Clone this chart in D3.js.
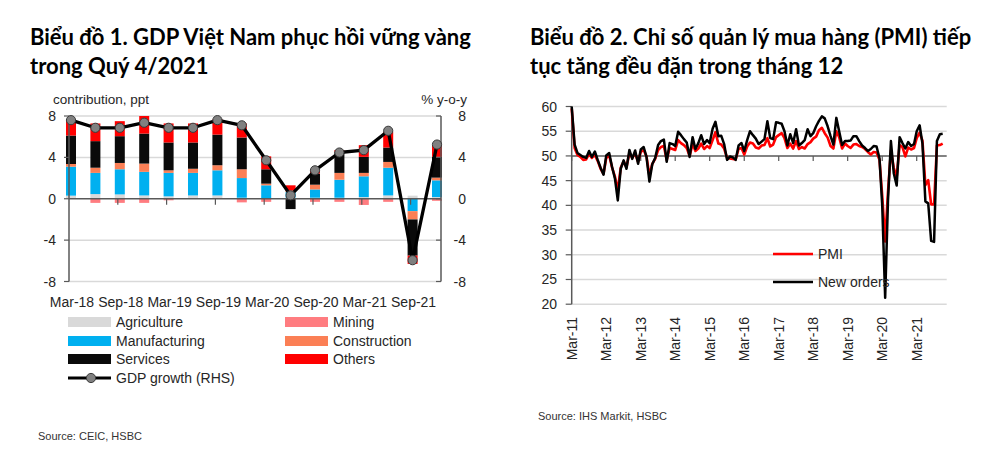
<!DOCTYPE html>
<html><head><meta charset="utf-8">
<script src="https://cdn.jsdelivr.net/npm/d3@7"></script>
<style>body{margin:0;background:#fff}svg{display:block}</style>
</head><body><svg id="c" width="991" height="476"></svg>
<script>
// ---------- Chart 1 data ----------
const quarters = ["Mar-18","Jun-18","Sep-18","Dec-18","Mar-19","Jun-19","Sep-19","Dec-19","Mar-20","Jun-20","Sep-20","Dec-20","Mar-21","Jun-21","Sep-21","Dec-21"];
const quarterTickLabels = ["Mar-18","Sep-18","Mar-19","Sep-19","Mar-20","Sep-20","Mar-21","Sep-21"];
const agriculture   = [0.3,0.45,0.42,0.32,0.23,0.32,0.32,0.1,0.05,0.1,0.1,0.1,0.16,0.32,0.3,0.16];
const mining        = [0,-0.4,-0.4,-0.4,-0.15,0,0,-0.35,-0.3,0,-0.3,-0.3,-0.6,-0.3,0,-0.2];
const manufacturing = [2.8,2.05,2.43,2.28,2.27,2.18,2.43,1.9,1.25,0.55,0.8,1.74,2.01,2.68,-1.2,1.62];
const construction  = [0.26,0.5,0.61,0.8,0.25,0.4,0.49,0.85,0.16,0.15,0.46,0.66,0.33,0.56,-0.8,0.26];
const services      = [2.75,2.57,2.59,2.9,2.69,2.54,2.96,3.07,1.39,-1.0,1.07,2.03,1.55,1.39,-3.5,2.01];
const others        = [1.5,1.71,1.45,1.7,1.84,1.84,1.47,1.36,1.25,0.5,0.32,0.17,1.13,1.52,-0.8,1.13];
const gdpGrowth     = [7.6,6.86,6.86,7.35,6.86,6.86,7.6,7.1,3.72,0.33,2.75,4.47,4.7,6.57,-5.94,5.24];
const leftTicks = [-8,-4,0,4,8];

// ---------- Chart 2 data ----------
const pmiStart = "2011-03";
const pmi = [
59.6,51.6,50.2,49.8,49.2,49.3,50.4,49.6,50.2,49.0,
47.4,46.4,49.6,50.1,47.7,45.8,43.0,47.6,48.9,47.7,
50.6,49.6,50.5,48.8,50.8,51.2,49.9,46.0,48.4,49.4,
51.2,51.8,52.0,49.2,51.6,51.4,51.2,53.2,52.6,52.2,
51.6,50.0,52.4,51.0,51.5,52.5,51.4,52.0,51.6,53.2,
54.8,52.5,52.3,51.5,49.6,49.5,49.4,49.3,51.4,51.6,
50.3,51.9,52.7,52.5,51.7,51.5,52.1,52.2,53.6,51.9,
52.3,53.8,54.2,54.6,53.6,51.6,52.5,51.5,53.0,51.4,
51.8,51.5,52.4,52.8,53.5,53.9,55.2,55.7,54.6,53.7,
52.0,51.5,55.0,53.8,51.5,52.5,52.0,51.6,52.3,52.4,
52.0,51.8,51.4,50.8,50.3,50.8,50.7,49.2,41.9,32.7,
42.7,51.1,47.6,45.7,52.2,51.8,49.9,51.7,51.3,51.6,
53.6,54.7,53.1,44.1,45.1,40.2,40.2,52.1,52.2,52.5];
const newOrders = [
60.0,52.3,50.6,50.2,49.8,49.6,51.0,49.8,50.9,49.2,
47.6,46.2,50.1,50.6,47.8,45.4,41.0,47.4,49.1,47.4,
51.2,49.4,51.1,48.4,51.3,51.8,49.8,44.8,48.3,49.6,
52.2,53.0,53.3,48.8,52.6,52.4,52.0,54.9,54.2,53.4,
52.7,49.8,53.8,51.4,52.6,54.2,52.4,53.2,52.6,55.5,
56.9,54.0,54.1,52.4,49.2,49.9,49.7,49.2,52.1,52.6,
51.0,53.2,55.0,54.2,53.5,52.4,52.9,53.4,57.0,53.6,
53.4,56.8,56.7,56.5,55.0,52.1,54.4,52.6,55.4,52.1,
52.6,53.2,55.4,54.0,54.6,56.0,57.1,58.0,57.6,56.0,
54.0,52.3,57.7,55.0,52.2,53.0,53.0,53.1,54.0,54.0,
53.0,52.1,51.6,51.0,51.4,52.0,51.9,49.5,40.0,21.3,
41.0,53.0,46.5,44.0,53.8,52.6,51.5,52.8,52.0,52.4,
55.0,56.2,52.5,40.8,40.4,32.8,32.6,53.0,54.4,54.5];
const rightTicks = [20,25,30,35,40,45,50,55,60];
const yearTickLabels = ["Mar-11","Mar-12","Mar-13","Mar-14","Mar-15","Mar-16","Mar-17","Mar-18","Mar-19","Mar-20","Mar-21"];

const svg = d3.select("#c");
const FONT = "'Liberation Sans', Arial, sans-serif";
const TXT = "#262626";

// ---------- Titles ----------
const titleLines = [
  {t:"Biểu đồ 1. GDP Việt Nam phục hồi vững vàng", x:30, y:45},
  {t:"trong Quý 4/2021", x:30, y:74},
  {t:"Biểu đồ 2. Chỉ số quản lý mua hàng (PMI) tiếp", x:530, y:45},
  {t:"tục tăng đều đặn trong tháng 12", x:530, y:74}
];
const titles = svg.selectAll("text.title").data(titleLines).join("text")
  .attr("class","title").attr("x",d=>d.x).attr("y",d=>d.y)
  .attr("font-family","Lato, 'Noto Sans', sans-serif").attr("font-weight",700)
  .attr("font-size",19).attr("fill","#000").text(d=>d.t);
const w0 = titles.nodes()[0].getComputedTextLength();
const fs = 19 * 441 / w0;
titles.attr("font-size", fs);

// ---------- Chart 1 ----------
const yL = d3.scaleLinear().domain([-8,8]).range([281.5,116]);
const xL = d3.scaleBand().domain(quarters).range([58.8,449.2]).paddingInner(0.59).paddingOuter(0.295);
const AX0 = 69, AX1 = 441;
const g1 = svg.append("g");

g1.selectAll("line.grid").data(leftTicks.filter(v=>v!==0)).join("line")
  .attr("x1",AX0).attr("x2",AX1).attr("y1",d=>yL(d)).attr("y2",d=>yL(d))
  .attr("stroke","#d9d9d9").attr("stroke-width",1.5);

const keys = ["Agriculture","Mining","Manufacturing","Construction","Services","Others"];
const colors = {Agriculture:"#d9d9d9",Mining:"#ff7c80",Manufacturing:"#00b0f0",Construction:"#fb7f55",Services:"#0a0a0a",Others:"#ff0000"};
const series = {Agriculture:agriculture,Mining:mining,Manufacturing:manufacturing,Construction:construction,Services:services,Others:others};
const rows = quarters.map((q,i)=>{const r={q}; keys.forEach(k=>r[k]=series[k][i]); return r;});
const stacked = d3.stack().keys(keys).offset(d3.stackOffsetDiverging)(rows);

g1.selectAll("g.layer").data(stacked).join("g").attr("fill",d=>colors[d.key])
  .selectAll("rect").data(d=>d).join("rect")
  .attr("x",d=>xL(d.data.q)).attr("width",xL.bandwidth())
  .attr("y",d=>yL(Math.max(d[0],d[1]))).attr("height",d=>Math.abs(yL(d[0])-yL(d[1])));

g1.append("line").attr("x1",AX0).attr("x2",AX0).attr("y1",yL(8)).attr("y2",yL(-8)).attr("stroke","#595959").attr("stroke-width",1.5);
g1.append("line").attr("x1",AX1).attr("x2",AX1).attr("y1",yL(8)).attr("y2",yL(-8)).attr("stroke","#595959").attr("stroke-width",1.5);
g1.append("line").attr("x1",AX0).attr("x2",AX1).attr("y1",yL(0)).attr("y2",yL(0)).attr("stroke","#595959").attr("stroke-width",1.5);
g1.selectAll("line.lt").data(leftTicks).join("line").attr("x1",AX0-5).attr("x2",AX0).attr("y1",d=>yL(d)).attr("y2",d=>yL(d)).attr("stroke","#595959").attr("stroke-width",1.2);
g1.selectAll("line.rt").data(leftTicks).join("line").attr("x1",AX1-5).attr("x2",AX1).attr("y1",d=>yL(d)).attr("y2",d=>yL(d)).attr("stroke","#595959").attr("stroke-width",1.2);
g1.selectAll("line.xt").data(quarterTickLabels.slice(1)).join("line")
  .attr("x1",d=>xL(d)+xL.bandwidth()/2-2).attr("x2",d=>xL(d)+xL.bandwidth()/2-2)
  .attr("y1",yL(0)).attr("y2",yL(0)+6).attr("stroke","#595959").attr("stroke-width",1.2);

g1.selectAll("text.yl").data(leftTicks).join("text").attr("x",56).attr("y",d=>yL(d)+5)
  .attr("text-anchor","end").attr("font-family",FONT).attr("font-size",14).attr("fill",TXT).text(d=>d);
g1.selectAll("text.yr").data(leftTicks).join("text").attr("x",466).attr("y",d=>yL(d)+5)
  .attr("text-anchor","end").attr("font-family",FONT).attr("font-size",14).attr("fill",TXT).text(d=>d);
g1.selectAll("text.xl").data(quarterTickLabels).join("text")
  .attr("x",d=>xL(d)+xL.bandwidth()/2+1).attr("y",307).attr("text-anchor","middle")
  .attr("font-family",FONT).attr("font-size",14).attr("fill",TXT).text(d=>d);
g1.append("text").attr("x",53).attr("y",104).attr("font-family",FONT).attr("font-size",13.5).attr("fill",TXT).text("contribution,  ppt");
g1.append("text").attr("x",467).attr("y",104).attr("text-anchor","end").attr("font-family",FONT).attr("font-size",13.5).attr("fill",TXT).text("% y-o-y");

const gdpLine = d3.line().x((d,i)=>xL(quarters[i])+xL.bandwidth()/2).y(d=>yL(d));
g1.append("path").datum(gdpGrowth).attr("d",gdpLine).attr("fill","none").attr("stroke","#000").attr("stroke-width",3.3).attr("stroke-linejoin","round");
g1.selectAll("circle.gdp").data(gdpGrowth).join("circle")
  .attr("cx",(d,i)=>xL(quarters[i])+xL.bandwidth()/2).attr("cy",d=>yL(d)).attr("r",4.6)
  .attr("fill","#808080").attr("stroke","#3a3a3a").attr("stroke-width",1);

const leg1 = [
  {k:"Agriculture",x:68,y:322},{k:"Manufacturing",x:68,y:341},{k:"Services",x:68,y:359},
  {k:"Mining",x:285,y:322},{k:"Construction",x:285,y:341},{k:"Others",x:285,y:359}
];
g1.selectAll("rect.leg").data(leg1).join("rect").attr("x",d=>d.x).attr("y",d=>d.y-5).attr("width",43).attr("height",10).attr("fill",d=>colors[d.k]);
g1.selectAll("text.leg").data(leg1).join("text").attr("x",d=>d.x+48).attr("y",d=>d.y+5)
  .attr("font-family",FONT).attr("font-size",14).attr("fill",TXT).text(d=>d.k);
g1.append("line").attr("x1",68).attr("x2",111).attr("y1",378).attr("y2",378).attr("stroke","#000").attr("stroke-width",3);
g1.append("circle").attr("cx",91).attr("cy",378).attr("r",4.6).attr("fill","#808080").attr("stroke","#3a3a3a");
g1.append("text").attr("x",116).attr("y",383).attr("font-family",FONT).attr("font-size",14).attr("fill",TXT).text("GDP growth (RHS)");
svg.append("text").attr("x",38).attr("y",440).attr("font-family",FONT).attr("font-size",11).attr("fill","#333").text("Source: CEIC, HSBC");

// ---------- Chart 2 ----------
const start = d3.timeParse("%Y-%m")(pmiStart);
const dates = pmi.map((_,i)=>d3.timeMonth.offset(start,i));
const xR = d3.scaleTime().domain([start, d3.timeMonth.offset(start,120)]).range([571.7,916.7]);
const yR = d3.scaleLinear().domain([20,60]).range([304.2,106.5]);
const RX0 = 571.7, RX1 = 946.7;
const g2 = svg.append("g");
g2.selectAll("line.grid").data(rightTicks.filter(v=>v!==50)).join("line")
  .attr("x1",RX0).attr("x2",RX1).attr("y1",d=>yR(d)).attr("y2",d=>yR(d))
  .attr("stroke","#d9d9d9").attr("stroke-width",1.5);
g2.append("line").attr("x1",RX0).attr("x2",RX1).attr("y1",yR(50)).attr("y2",yR(50)).attr("stroke","#595959").attr("stroke-width",1.5);
const yearDates = yearTickLabels.map((_,i)=>d3.timeMonth.offset(start,12*i));
g2.selectAll("line.xt").data(yearDates).join("line").attr("x1",d=>xR(d)).attr("x2",d=>xR(d))
  .attr("y1",yR(50)).attr("y2",yR(50)+5).attr("stroke","#595959").attr("stroke-width",1.2);
g2.append("line").attr("x1",RX0).attr("x2",RX0).attr("y1",yR(60)).attr("y2",yR(20)).attr("stroke","#595959").attr("stroke-width",1.5);
g2.selectAll("line.yt").data(rightTicks).join("line").attr("x1",RX0-6).attr("x2",RX0).attr("y1",d=>yR(d)).attr("y2",d=>yR(d)).attr("stroke","#595959").attr("stroke-width",1.2);
g2.selectAll("text.yl").data(rightTicks).join("text").attr("x",557).attr("y",d=>yR(d)+5)
  .attr("text-anchor","end").attr("font-family",FONT).attr("font-size",14).attr("fill",TXT).text(d=>d);
g2.selectAll("text.xl").data(yearTickLabels).join("text")
  .attr("transform",(d,i)=>`translate(${xR(yearDates[i])+5},317) rotate(-90)`)
  .attr("text-anchor","end").attr("font-family",FONT).attr("font-size",14).attr("fill",TXT).text(d=>d);

const lineR = d3.line().x((d,i)=>xR(dates[i])).y(d=>yR(d));
g2.append("path").datum(pmi).attr("d",lineR).attr("fill","none").attr("stroke","#ff0000").attr("stroke-width",2.6).attr("stroke-linejoin","round");
g2.append("path").datum(newOrders).attr("d",lineR).attr("fill","none").attr("stroke","#000").attr("stroke-width",2.5).attr("stroke-linejoin","round");

const leg2 = [{t:"PMI",c:"#ff0000",y:254},{t:"New orders",c:"#000",y:282}];
g2.selectAll("line.leg").data(leg2).join("line").attr("x1",773).attr("x2",813).attr("y1",d=>d.y).attr("y2",d=>d.y).attr("stroke",d=>d.c).attr("stroke-width",2.5);
g2.selectAll("text.leg").data(leg2).join("text").attr("x",818).attr("y",d=>d.y+5)
  .attr("font-family",FONT).attr("font-size",14).attr("fill",TXT).text(d=>d.t);
svg.append("text").attr("x",538).attr("y",420).attr("font-family",FONT).attr("font-size",11).attr("fill","#333").text("Source: IHS Markit, HSBC");
</script></body></html>
